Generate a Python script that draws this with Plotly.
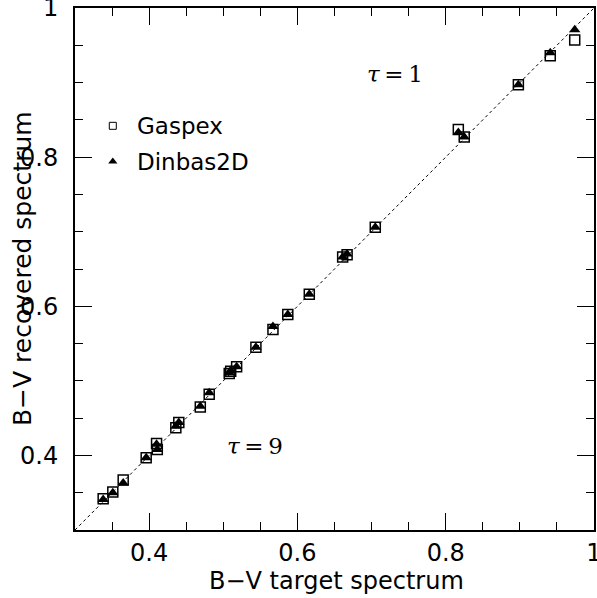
import plotly.graph_objects as go

# B-V target spectrum values
x_target = [0.338, 0.351, 0.365, 0.396, 0.410, 0.411, 0.436, 0.440, 0.469, 0.481,
            0.508, 0.510, 0.518, 0.544, 0.567, 0.587, 0.616, 0.661, 0.667, 0.705,
            0.817, 0.825, 0.898, 0.941, 0.974]
# B-V recovered spectrum (Gaspex)
y_gaspex = [0.342, 0.351, 0.367, 0.397, 0.416, 0.408, 0.437, 0.444, 0.465, 0.482,
            0.510, 0.513, 0.519, 0.545, 0.569, 0.589, 0.616, 0.666, 0.669, 0.706,
            0.837, 0.827, 0.897, 0.936, 0.957]
# B-V recovered spectrum (Dinbas2D)
y_dinbas = [0.341, 0.350, 0.363, 0.397, 0.415, 0.408, 0.439, 0.444, 0.466, 0.484,
            0.511, 0.514, 0.519, 0.545, 0.573, 0.589, 0.616, 0.666, 0.670, 0.706,
            0.833, 0.827, 0.897, 0.940, 0.971]

diag = [0.3, 1.0]
tick_vals = [0.4, 0.6, 0.8, 1.0]
tick_text = ["0.4", "0.6", "0.8", "1"]

FONT = "DejaVu Sans"

fig = go.Figure()
fig.add_trace(go.Scatter(x=diag, y=diag, mode="lines",
                         line=dict(color="black", width=1, dash="dot"),
                         hoverinfo="skip", showlegend=False))
fig.add_trace(go.Scatter(x=x_target, y=y_gaspex, mode="markers", name="Gaspex",
                         marker=dict(symbol="square-open", size=10, color="black",
                                     line=dict(width=1.5, color="black"))))
fig.add_trace(go.Scatter(x=x_target, y=y_dinbas, mode="markers", name="Dinbas2D",
                         marker=dict(symbol="triangle-up", size=10, color="black",
                                     line=dict(width=0))))
# legend symbols
fig.add_trace(go.Scatter(x=[0.351], y=[0.842], mode="markers", showlegend=False,
                         marker=dict(symbol="square-open", size=7, color="black",
                                     line=dict(width=1, color="black"))))
fig.add_trace(go.Scatter(x=[0.351], y=[0.794], mode="markers", showlegend=False,
                         marker=dict(symbol="triangle-up", size=8, color="black")))

axis_common = dict(
    range=[0.3, 1.0], tickvals=tick_vals, ticktext=tick_text,
    ticks="inside", ticklen=17, tickwidth=1, tickcolor="black",
    showline=True, linewidth=2, linecolor="black", mirror="ticks",
    showgrid=False, zeroline=False, automargin=False,
    ticklabeloverflow="allow",
    tickfont=dict(family=FONT, size=24, color="black"),
    minor=dict(dtick=0.05, tick0=0, ticks="inside", ticklen=8, tickwidth=1,
               tickcolor="black", showgrid=False),
)
fig.update_xaxes(**axis_common, ticklabelstandoff=0)
fig.update_yaxes(**axis_common, ticklabelstandoff=10)

fig.add_annotation(x=0.503, y=-0.097, xref="paper", yref="paper", showarrow=False,
                   text="B\u2212V target spectrum", xanchor="center", yanchor="middle",
                   font=dict(family=FONT, size=24, color="black"))
fig.add_annotation(x=-0.102, y=0.5, xref="paper", yref="paper", showarrow=False,
                   text="B\u2212V recovered spectrum", textangle=-90,
                   xanchor="center", yanchor="middle",
                   font=dict(family=FONT, size=25, color="black"))
fig.add_annotation(x=0.381, y=0.842, text="Gaspex", showarrow=False, xanchor="left",
                   yanchor="middle", font=dict(family=FONT, size=23, color="black"))
fig.add_annotation(x=0.381, y=0.794, text="Dinbas2D", showarrow=False, xanchor="left",
                   yanchor="middle", font=dict(family=FONT, size=23, color="black"))
fig.add_annotation(x=0.732, y=0.912, text="<i>\u03c4</i>\u2009=\u20091", showarrow=False,
                   xanchor="center", yanchor="middle",
                   font=dict(family="DejaVu Serif", size=23, color="black"))
fig.add_annotation(x=0.543, y=0.412, text="<i>\u03c4</i>\u2009=\u20099", showarrow=False,
                   xanchor="center", yanchor="middle",
                   font=dict(family="DejaVu Serif", size=23, color="black"))

fig.update_layout(width=597, height=598, margin=dict(l=75, r=3, t=8, b=68),
                  plot_bgcolor="white", paper_bgcolor="white", showlegend=False)

fig.write_html("out.html", config={"displayModeBar": False},
               post_script="document.body.style.margin='0';"
                           "document.body.style.overflow='hidden';")
